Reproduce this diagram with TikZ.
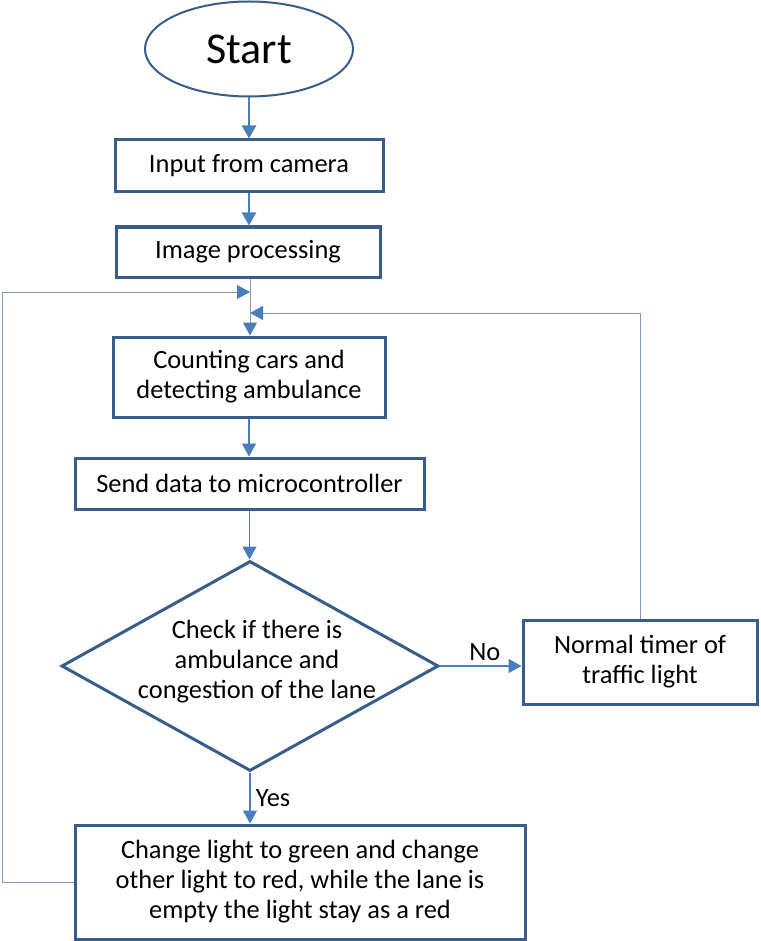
\documentclass[tikz,border=0pt]{standalone}
\usepackage{fontspec}
\setmainfont{Carlito}
\usepackage{tikz}
\usetikzlibrary{arrows.meta,shapes.geometric}
\definecolor{boxblue}{HTML}{385D8A}
\definecolor{lineblue}{HTML}{4A7EBB}
\definecolor{loopgray}{HTML}{7F97B8}
\tikzset{
  box/.style={draw=boxblue, line width=1.5pt, fill=white, align=center, inner sep=0pt,
    font=\fontsize{13.2}{15}\selectfont},
  flow/.style={draw=lineblue, line width=0.8pt, -{Triangle[length=6.5pt,width=7pt,color=lineblue]}},
  loopflow/.style={draw=loopgray, line width=0.5pt, -{Triangle[length=6.5pt,width=7pt,color=lineblue]}},
  answer/.style={inner sep=2.5pt, font=\fontsize{13.2}{15}\selectfont},
  question/.style={align=center, inner sep=0pt, font=\fontsize{13.2}{15}\selectfont},
}

\begin{document}
\begin{tikzpicture}[x=0.5pt,y=-0.5pt]
    \useasboundingbox (0,0) rectangle (760,941);
    %%blocks
    \node[box, ellipse, line width=1pt, minimum width=104pt, minimum height=47.5pt,
      font=\fontsize{22}{24}\selectfont] (start) at (249,49) {Start};
    \node[box, minimum width=134pt, minimum height=26pt] (input) at (249,166) {Input from camera};
    \node[box, minimum width=132pt, minimum height=25pt] (imgproc) at (248,252) {Image processing};
    \node[box, minimum width=136pt, minimum height=40pt] (count) at (249,377)
      {Counting cars and\\detecting ambulance};
    \node[box, minimum width=174.5pt, minimum height=25.5pt] (send) at (249.5,483.5)
      {Send data to microcontroller};
    \node[box, diamond, minimum width=188.5pt, minimum height=105pt,
      label={[question, xshift=3.5pt, yshift=2pt]center:Check if there is\\ambulance and\\congestion of the lane}]
      (check) at (250,666) {};
    \node[box, minimum width=117pt, minimum height=42pt] (normal) at (640,662)
      {Normal timer of\\traffic light};
    \node[box, minimum width=225pt, minimum height=57pt] (change) at (300,882)
      {Change light to green and change\\other light to red, while the lane is\\empty the light stay as a red};

    %%arrows
    \draw[flow, line width=1.2pt] (start) -- (start |- input.north);
    \draw[flow, line width=1.2pt] (input) -- (input |- imgproc.north);
    \draw[flow] (count) -- (count |- send.north);
    \draw[flow] (send) -- (send |- check.north);
    \draw[flow] (check.east) -- node[answer, above, pos=0.55] {No} (check.east -| normal.west);
    \draw[flow] (check.south) -- node[answer, right] {Yes} (check.south |- change.north);

    %%feedback
    \coordinate (joinL) at (250,292);
    \coordinate (joinR) at (250,313);
    \coordinate (leftside) at (2,882);
    \draw[loopflow] (imgproc.south -| joinL) -- (joinL |- count.north);
    \draw[loopflow] (change.west) -- (leftside) |- (joinL);
    \draw[loopflow] (normal.north) |- (joinR);
\end{tikzpicture}
\end{document}
